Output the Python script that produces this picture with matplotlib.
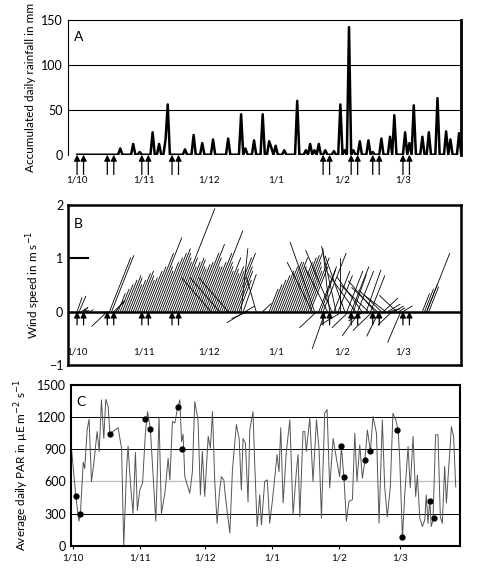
import numpy as np
import matplotlib
matplotlib.use("Agg")
import matplotlib.pyplot as plt

plt.rcParams['font.family'] = ['Lato', 'DejaVu Sans']

# day index: 0 = 1 October
month_days = [0, 31, 61, 92, 123, 151]
month_labels = ["1/10", "1/11", "1/12", "1/1", "1/2", "1/3"]
sample_days = [0, 3, 14, 17, 30, 33, 44, 47, 114, 117, 127, 130, 137, 140, 151, 154]

# Panel A: rainfall (nonzero days)
rain_days = [20, 26, 29, 35, 38, 41, 42, 50, 54, 58, 63, 70.5, 75.5, 78, 82, 86, 89, 90, 92,
             96, 102, 105.5, 108, 110, 112.5, 115, 119, 122, 124, 125.6, 128, 130.7, 135, 137,
             141, 145, 147, 152, 154, 156, 160, 162.6, 167, 171, 173, 177]
rain_vals = [7, 12, 3, 25, 12, 17, 56, 6, 22, 13, 17, 18, 45, 7, 16, 45, 15, 8, 10,
             5, 60, 5, 12, 5, 12, 5, 4, 56, 5, 142, 5, 15, 16, 3,
             18, 20, 44, 25, 13, 55, 20, 25, 63, 26, 17, 24]

# Panel B: wind sticks
wind_days = list(range(0, 10)) + [14, 15, 16, 17, 18] + list(range(19, 59)) + list(range(59, 76)) + \
    [62, 66, 70, 76, 77, 78, 78, 79, 83, 86] + list(range(89, 109)) + list(range(109, 152)) + \
    [160, 161, 162, 163, 162]
wind_speed = [0.3, 0.35, 0.2, 0.15, 0.1, 0.12, 0.1, 0, 0, 0] + [0.55, 1.2, 1.25, 0.4, 0.3] + \
    [0.4, 0.5, 0.6, 0.7, 0.8, 0.75, 0.6, 0.7, 0.85, 0.9, 0.8, 0.7, 0.75, 0.9, 1.0, 1.3, 1.65, 1.0, 0.9, 1.1,
     1.2, 1.3, 1.4, 1.3, 1.2, 1.1, 2.3, 1.2, 1.0, 1.1, 1.2, 1.15, 1.0, 0.95, 1.05, 1.1, 1.3, 1.5, 1.2, 1.0] + \
    [1.0, 1.1, 1.3, 1.8, 1.1, 1.0, 0.9, 1.2, 0.95, 0.85, 1.0, 0.9, 1.2, 1.3, 1.0, 0.9, 0.7] + \
    [1.1, 1.1, 1.1, 1.2, 0.8, 0.3, 0.6, 0.5, 0.7, 0.3] + \
    [0.5, 0.6, 0.7, 0.8, 0.9, 1.0, 1.1, 1.1, 1.2, 1.0, 0.9, 1.1, 1.2, 1.25, 1.3, 1.1, 1.0, 0.9, 1.2, 1.0] + \
    [1.2, 1.5, 0.6, 1.0, 0.9, 1.3, 0.8, 1.1, 1.2, 1.4, 0.9, 1.3, 0.8, 1.0, 0.7, 1.2, 0.9, 0.6, 1.0, 0.8,
     1.1, 0.9, 0.7, 1.0, 0.5, 0.9, 1.0, 0.8, 0.7, 1.0, 0.9, 0.6, 0.8, 0.5, 0.7, 0.4, 0.3, 0.5, 0.3, 0.6,
     0.2, 0.7, 0.3] + [0.4, 0.5, 0.6, 0.55, 1.3]
wind_angle = [60, 55, 20, 30, 10, 160, 20, 0, 0, 0] + [210, 57, 57, 30, 40] + [57] * 40 + [57] * 17 + \
    [145, 145, 145, 80, 60, 20, 200, 195, 115, 30] + [57] * 20 + \
    [130, 120, 210, 57, 60, 57, 240, 130, 100, 125, 57, 110, 57, 90, 200, 120, 57, 210, 57, 60,
     140, 57, 220, 140, 200, 60, 150, 57, 210, 145, 150, 230, 150, 30, 155, 20, 10, 210, 20, 150,
     20, 235, 20] + [57, 57, 57, 57, 57]
days_per_ms = 15.0  # horizontal display scale: 1 m/s equals this many days

# Panel C: PAR
par_days = [-0.6, 1.4, 2.8, 3.5, 4.8, 5.5, 6.6, 7.5, 8.6, 9.7, 11.2, 12.2, 13.2, 14.3, 15.2, 16.3, 17.1, 20.9,
            22.5, 23.5, 24.8, 25.5, 26.6, 27.8, 28.9, 29.8, 30.9, 32.2, 33.5, 34.5, 35.8, 37.4, 38.3, 39.8,
            40.9, 42.5, 44, 44.8, 46, 47.1, 48.2, 49.4, 50.2, 50.9, 51.7, 54, 55.2, 56.3, 57.8, 58.9, 59.8,
            60.9, 62.5, 63.5, 64.5, 65.5, 66.6, 67.8, 68.6, 69.7, 70.6, 72.5, 73.7, 75.5, 76.8, 77.8, 78.6,
            79.7, 80.9, 81.7, 83.2, 84, 85.1, 86.3, 87.1, 88.6, 89.8, 90.9, 92.2, 94.3, 95.2, 96, 97.1, 98.6,
            100.2, 101.7, 103.2, 104, 104.8, 106.3, 107.1, 107.8, 109.4, 110.9, 112.5, 113.7, 114.8, 116.3,
            117.4, 118.6, 120.2, 121.7, 123.2, 124, 125.2, 126.3, 127.5, 129.1, 130.2, 131.2, 132.5, 133.7,
            134.8, 136, 137.4, 138.6, 140.2, 141.4, 142.9, 144, 145.2, 146.6, 147.8, 149.1, 150.2, 150.9,
            152.2, 153.2, 154.8, 155.8, 157.1, 158.3, 159.1, 160.2, 161.4, 162.5, 163.2, 164, 164.8, 165.5,
            166.3, 167.5, 168.6, 169.7, 170.6, 171.7, 172.5, 174.8, 175.8, 176.8]
par_vals = [900, 460, 230, 300, 780, 720, 1080, 1180, 600, 770, 1065, 880, 1360, 1000, 1365, 1300, 1045, 1100,
            910, 0, 710, 930, 580, 300, 870, 330, 520, 585, 1050, 1250, 1090, 540, 230, 1200,
            300, 490, 815, 615, 1160, 1145, 1270, 1360, 970, 1040, 645, 490, 690, 1345, 1175, 475, 880,
            460, 1020, 910, 1250, 615, 210, 520, 645, 615, 430, 120, 710, 1130, 1000, 520, 1000,
            955, 410, 1080, 1250, 755, 180, 475, 195, 600, 615, 210, 430, 850, 690, 1100, 400, 880,
            1175, 290, 690, 850, 270, 1065, 1065, 880, 1190, 600, 1175, 895, 260, 1235,
            1270, 540, 1000, 815, 645, 925, 630, 230, 415, 430, 1050, 600, 940, 630,
            785, 1080, 880, 1205, 1050, 210, 1175, 550, 270, 550, 1235, 1175, 1080, 830,
            70, 460, 925, 540, 1020, 460, 660, 260, 180, 240, 475, 210, 430, 180,
            240, 1035, 1035, 270, 210, 740, 400, 1110, 1020, 550]
par_dot_days = [1.4, 3.5, 17.1, 33.5, 35.8, 48.6, 50.6, 124, 125.2, 135.1, 137.1, 149.7, 152, 164.8, 166.6]
par_dot_vals = [460, 300, 1045, 1180, 1090, 1290, 900, 930, 640, 800, 885, 1080, 85, 415, 260]

fig = plt.figure(figsize=(4.79, 5.71), dpi=100)
axA = fig.add_axes([0.142, 0.729, 0.820, 0.236])
axB = fig.add_axes([0.142, 0.361, 0.820, 0.280])
axC = fig.add_axes([0.148, 0.044, 0.812, 0.282])

def arrows(ax, y0, y1):
    for d in sample_days:
        ax.annotate("", xy=(d, y1), xytext=(d, y0), annotation_clip=False,
                    arrowprops=dict(arrowstyle="-|>", color="black", lw=0.9, mutation_scale=9,
                                    shrinkA=0, shrinkB=0))

# ---- A
rain = np.zeros(182)
for d, v in zip(rain_days, rain_vals):
    rain[int(round(d))] = v
axA.plot(np.arange(182), rain, color="black", lw=1.8)
axA.set_xlim(-4.2, 177.8)
axA.set_ylim(0, 150)
for y in (50, 100):
    axA.axhline(y, color="black", lw=0.8)
axA.set_yticks([0, 50, 100, 150])
axA.set_xticks([])
axA.spines['bottom'].set_visible(False)
axA.spines['right'].set_linewidth(2)
axA.tick_params(axis='y', length=0, labelsize=9)
axA.set_ylabel("Accumulated daily rainfall in mm", fontsize=8.5)
axA.text(0.015, 0.92, "A", transform=axA.transAxes, fontsize=10, va="top")
arrows(axA, -22, 0)
for d, l in zip(month_days, month_labels):
    axA.text(d, -28, l, ha="center", va="center", fontsize=7, clip_on=False)

# ---- B
for d, s, a in zip(wind_days, wind_speed, wind_angle):
    r = np.deg2rad(a)
    axB.plot([d, d + s * np.cos(r) * days_per_ms], [0, s * np.sin(r)], color="black", lw=0.6)
axB.axhline(0, color="black", lw=1.8)
axB.plot([-4.2, 5], [1, 1], color="black", lw=1.5)
arrows(axB, -0.25, 0)
axB.set_xlim(-4.2, 177.8)
axB.set_ylim(-1, 2)
axB.set_yticks([-1, 0, 1, 2])
axB.set_xticks([])
for s in axB.spines.values():
    s.set_linewidth(1.8)
axB.tick_params(axis='y', length=0, labelsize=9)
axB.set_ylabel("Wind speed in m s$^{-1}$", fontsize=8.5)
axB.text(0.015, 0.92, "B", transform=axB.transAxes, fontsize=10, va="top")
for d, l in zip(month_days, month_labels):
    axB.text(d, -0.75, l, ha="center", va="center", fontsize=7)

# ---- C
axC.plot(par_days, par_vals, color="#555555", lw=0.7)
axC.plot(par_dot_days, par_dot_vals, "o", color="black", ms=3.5)
for y in (300, 900, 1200):
    axC.axhline(y, color="black", lw=0.7, zorder=0)
axC.axhline(600, color="#bbbbbb", lw=0.9, zorder=0)
axC.set_xlim(-0.9, 178.7)
axC.set_ylim(0, 1500)
axC.set_yticks([0, 300, 600, 900, 1200, 1500])
axC.set_xticks(month_days)
axC.set_xticklabels(month_labels, fontsize=7)
for s in axC.spines.values():
    s.set_linewidth(1.5)
axC.tick_params(axis='y', length=0, labelsize=9)
axC.tick_params(axis='x', length=2)
axC.set_ylabel("Average daily PAR in µE m$^{-2}$ s$^{-1}$", fontsize=8.5)
axC.text(0.015, 0.93, "C", transform=axC.transAxes, fontsize=10, va="top")

fig.savefig("out.png", dpi=100)
